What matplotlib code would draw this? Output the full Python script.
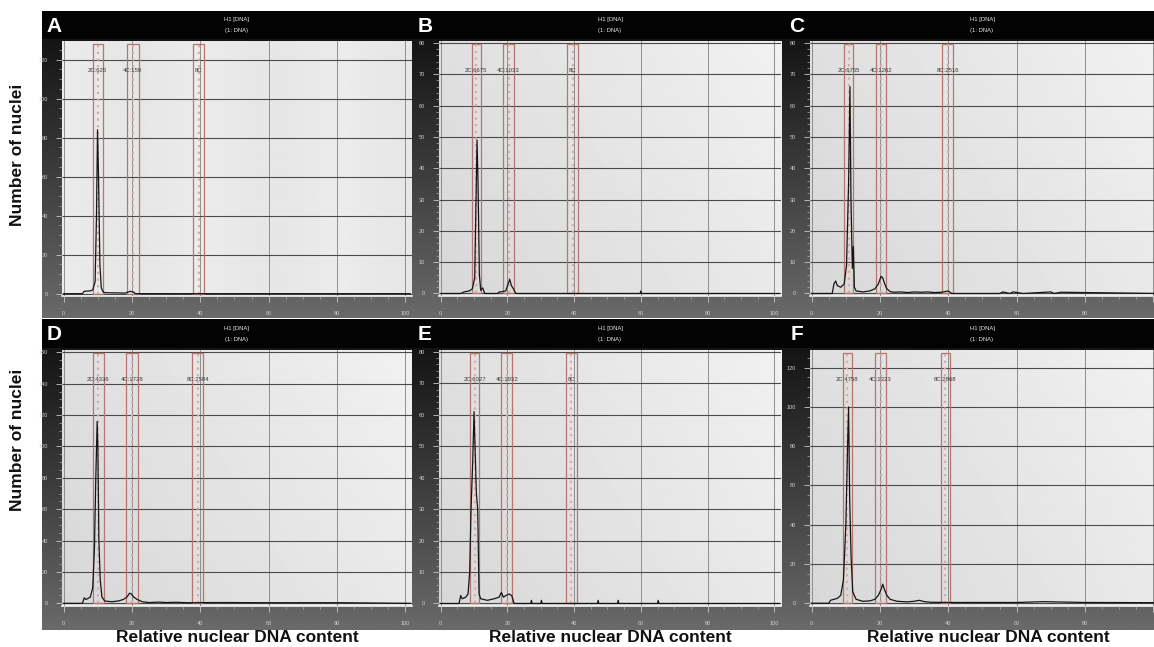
import matplotlib
matplotlib.use('Agg')
import matplotlib.pyplot as plt
import numpy as np
from matplotlib.patches import Rectangle
from matplotlib.ticker import MultipleLocator

plt.rcParams['font.family'] = ['Liberation Sans', 'DejaVu Sans']

# ---------------- data ----------------
panel_letters = ['A', 'B', 'C', 'D', 'E', 'F']
header_line1 = 'H1 [DNA]'
header_line2 = '(1: DNA)'
x_label = 'Relative nuclear DNA content'
y_label = 'Number of nuclei'
x_ticks = [0, 20, 40, 60, 80, 100]

A_x = [0, 5.5, 6, 8, 8.5, 9.2, 9.6, 9.9, 10.2, 10.6, 11.0, 11.5, 12, 18, 19.5, 20.5, 21, 101.5]
A_y = [0, 0, 1.2, 1.5, 2, 6, 40, 84, 60, 15, 3, 1, 0.5, 0.3, 1.2, 0.8, 0, 0]

B_x = [0, 6, 7, 8.5, 9.5, 10.2, 10.6, 10.9, 11.2, 11.6, 12.0, 12.6, 13.2, 17, 17.6, 18.5,
       19.5, 20.2, 20.7, 21.2, 21.8, 22.5, 59.8, 60, 60.2, 101.5]
B_y = [0, 0, 0.5, 0.8, 1.5, 5, 30, 49, 35, 6, 1, 1.8, 0, 0, 0.5, 0.6,
       0.8, 3, 4.5, 2.5, 1.5, 0, 0, 0.8, 0, 0]

C_x = [0, 6, 6.5, 7, 7.5, 8.5, 9.5, 10.2, 10.8, 11.2, 11.5, 11.9, 12.2, 12.5, 13, 15, 17,
       18.5, 19.5, 20.3, 20.8, 21.4, 22, 23, 24, 26, 28, 30, 32, 34, 36, 38, 40, 41,
       55, 56, 58, 59, 62, 70, 71, 73, 80, 102]
C_y = [0, 0, 3, 4, 2.5, 2, 3, 9, 35, 66, 30, 8, 15, 2, 0.8, 0.5, 0.8,
       1.5, 3, 5.5, 5, 3, 1.5, 0.6, 0.4, 0.5, 0.3, 0.5, 0.4, 0.5, 0.3, 0.4, 0.8, 0,
       0, 0.5, 0, 0.5, 0, 0.5, 0, 0.4, 0.3, 0]

D_x = [0, 5.5, 6, 6.5, 7, 7.8, 8.5, 9.0, 9.4, 9.8, 10.0, 10.3, 10.7, 11.2, 12, 14, 16,
       17.5, 18.5, 19.3, 19.8, 20.5, 21.5, 23, 25, 28, 30, 33, 35, 37, 44, 50, 58, 70,
       81, 101.5]
D_y = [0, 0, 3.5, 2.5, 3, 4, 10, 35, 80, 116, 100, 40, 15, 4, 1.5, 1, 1.5,
       2.5, 4, 6.5, 6, 4, 2.5, 1, 0.5, 0.8, 0.5, 0.7, 0.5, 0.4, 0.5, 0.5, 0.4, 0.4,
       0.4, 0]

E_x = [0, 5.5, 6, 6.5, 7.5, 8.2, 8.7, 9.1, 9.6, 10.0, 10.3, 10.7, 11.1, 11.5, 12, 14, 16,
       17.5, 18.2, 18.8, 19.5, 20.5, 21.3, 22, 27, 27.2, 27.4, 30, 30.2, 30.4, 47, 47.2,
       47.4, 53, 53.2, 53.4, 65, 65.2, 65.4, 101.5]
E_y = [0, 0, 2.5, 1.5, 2, 3, 10, 30, 45, 61, 50, 35, 30, 3, 1.5, 1, 1.5,
       2, 3.5, 2, 2.5, 3, 2.5, 0, 0, 1, 0, 0, 1, 0, 0, 1,
       0, 0, 1, 0, 0, 1, 0, 0]

F_x = [0, 5, 5.5, 6.5, 7.5, 8.5, 9.3, 10.0, 10.5, 10.8, 11.1, 11.5, 12, 13, 15, 17, 18.5,
       19.5, 20.3, 20.8, 21.3, 22, 23, 25, 28, 30, 31.5, 33, 35, 40, 50, 60, 68, 80, 102]
F_y = [0, 0, 1.5, 2, 2.5, 4, 12, 40, 80, 100, 55, 25, 6, 2, 1, 1.2, 2,
       4, 7, 9.7, 7, 4, 2, 1, 0.7, 1, 1.5, 0.8, 0.5, 0.4, 0.4, 0.4, 0.8, 0.4, 0.3]

hist_x = [A_x, B_x, C_x, D_x, E_x, F_x]
hist_y = [A_y, B_y, C_y, D_y, E_y, F_y]

# y axis maximum tick and step per panel
y_max_tick = [120, 80, 80, 160, 80, 120]
y_step = [20, 10, 10, 20, 10, 20]

# gates (2C, 4C, 8C) as x ranges
gates = [
    [(8.5, 11.4), (18.5, 22.0), (38.0, 41.0)],
    [(9.3, 12.0), (18.7, 22.0), (38.0, 41.3)],
    [(9.5, 12.2), (18.7, 21.9), (38.2, 41.4)],
    [(8.5, 11.7), (18.3, 21.8), (37.6, 40.9)],
    [(8.8, 11.5), (18.2, 21.5), (37.6, 40.8)],
    [(9.1, 11.7), (18.5, 21.8), (37.8, 40.5)],
]
gate_labels = [
    ['2C:625', '4C:159', '8C'],
    ['2C:6675', '4C:1033', '8C'],
    ['2C:6755', '4C:1262', '8C:2516'],
    ['2C:4336', '4C:1728', '8C:2584'],
    ['2C:6027', '4C:1932', '8C'],
    ['2C:4758', '4C:1323', '8C:2868'],
]

# ---------------- layout (pixels) ----------------
W, H = 1154, 647
fig = plt.figure(figsize=(W / 100, H / 100), dpi=100)
fig.patch.set_facecolor('white')


def box(x0, y0, x1, y1):
    return [x0 / W, 1 - y1 / H, (x1 - x0) / W, (y1 - y0) / H]


frame_lr = [(42, 413), (413, 785), (785, 1154)]
plot_lr = [(62, 412), (439, 781), (810, 1160)]
rows = [  # frame top, header bottom, plot top, plot bottom, frame bottom
    (11, 39, 41, 296, 318),
    (319, 348, 350, 606, 630),
]
ylims = [(-1.2, 129.5), (-0.8, 80.6), (-0.8, 80.6), (-1.7, 161.5), (-0.8, 80.6), (-1.4, 129)]
xlim = (-0.5, 102)

frame_grad = np.linspace(0, 1, 256).reshape(-1, 1)
frame_cmap = matplotlib.colors.LinearSegmentedColormap.from_list(
    'fr', ['#0c0c0c', '#3a3a3a', '#6a6a6a'])

for i in range(6):
    r, c = divmod(i, 3)
    ft, hb, pt, pb, fb = rows[r]
    fl, frr = frame_lr[c]
    pl, prr = plot_lr[c]

    # dark frame with vertical gradient
    fax = fig.add_axes(box(fl, ft, frr, fb), zorder=0)
    fax.imshow(frame_grad, cmap=frame_cmap, aspect='auto', extent=(0, 1, 0, 1),
               origin='upper')
    fax.set_axis_off()

    # header
    hax = fig.add_axes(box(fl, ft, frr, hb), zorder=1)
    hax.set_facecolor('#030303')
    hax.set_xticks([]); hax.set_yticks([])
    for s in hax.spines.values():
        s.set_visible(False)
    hax.text(12 / (frr - fl), 0.45, panel_letters[i], color='white', fontsize=15,
             fontweight='bold', ha='center', va='center', transform=hax.transAxes)
    cx = ((pl + min(prr, W)) / 2 - fl) / (frr - fl)
    hax.text(cx, 0.68, header_line1, color='#e8e8e8', fontsize=4.2, ha='center',
             va='center', transform=hax.transAxes)
    hax.text(cx, 0.3, header_line2, color='#e8e8e8', fontsize=4.2, ha='center',
             va='center', transform=hax.transAxes)

    # plot area
    ax = fig.add_axes(box(pl, pt, prr, pb), zorder=2)
    gx = np.linspace(0, 1, 200)
    gy = np.linspace(0, 1, 100)
    GX, GY = np.meshgrid(gx, gy)
    if i == 0:
        bg = 0.925 - 0.02 * np.abs(np.sin(GX * np.pi * 2.5)) + 0.0 * GY
    else:
        bg = 0.845 + 0.07 * GX + 0.03 * GY
    ax.imshow(bg, cmap='gray', vmin=0, vmax=1, extent=(0, 1, 0, 1), aspect='auto',
              transform=ax.transAxes, zorder=0, origin='lower')

    ylo, yhi = ylims[i]
    ax.xaxis.set_minor_locator(MultipleLocator(5))
    ax.yaxis.set_minor_locator(MultipleLocator(5 if y_step[i] == 20 else 2))
    xt_labels = [str(v) for v in x_ticks]
    if c == 2:
        xt_labels[-1] = ''  # cut by the image edge in the reference
    ax.set_xticks(x_ticks, xt_labels)
    ax.set_yticks(list(range(0, y_max_tick[i] + 1, y_step[i])))
    ax.set_xlim(*xlim)
    ax.set_ylim(ylo, yhi)

    ax.tick_params(axis='both', which='major', colors='#c8c8c8', labelsize=4,
                   length=4, width=0.6, direction='out')
    ax.tick_params(axis='both', which='minor', colors='#b0b0b0', length=2, width=0.5,
                   direction='out')
    ax.tick_params(axis='x', pad=7)
    ax.tick_params(axis='y', pad=6)
    for lbl in ax.get_xticklabels() + ax.get_yticklabels():
        lbl.set_color('#cfcfcf')

    ax.yaxis.grid(True, which='major', color='#4a4a4a', lw=0.8, zorder=1)
    ax.xaxis.grid(True, which='major', color='#808080', lw=0.6, zorder=1)
    ax.set_axisbelow(False)
    for name, s in ax.spines.items():
        s.set_visible(False)
    ax.spines['bottom'].set_visible(True)
    ax.spines['bottom'].set_color('#f4f4f4')
    ax.spines['bottom'].set_linewidth(1.2)

    # gates
    for (g0, g1), glab in zip(gates[i], gate_labels[i]):
        top = yhi - (yhi - ylo) * 0.012
        ax.add_patch(Rectangle((g0, 0), g1 - g0, top, fill=False, edgecolor='#b6756f',
                               lw=0.9, zorder=3))
        ax.plot([(g0 + g1) / 2, (g0 + g1) / 2], [0, top], color='#d9aaa6',
                lw=1.6, ls=(0, (1, 2)), zorder=3)
        ax.text((g0 + g1) / 2, 0.885, glab, transform=ax.get_xaxis_transform(),
                fontsize=4.3, color='#3a3a3a', ha='center', va='center', zorder=5)

    # histogram
    ax.plot(hist_x[i], hist_y[i], color='#151515', lw=0.9, zorder=4, clip_on=True)

# axis titles
for yc in (155, 440):
    fig.text(18 / W, 1 - yc / H, y_label, rotation=90, fontsize=12.5, fontweight='bold',
             ha='center', va='center', color='#111111')
for xc in (237, 610, 988):
    fig.text(xc / W, 1 - 638 / H, x_label, fontsize=12.5, fontweight='bold',
             ha='center', va='center', color='#111111')

fig.savefig('out.png', dpi=100)
